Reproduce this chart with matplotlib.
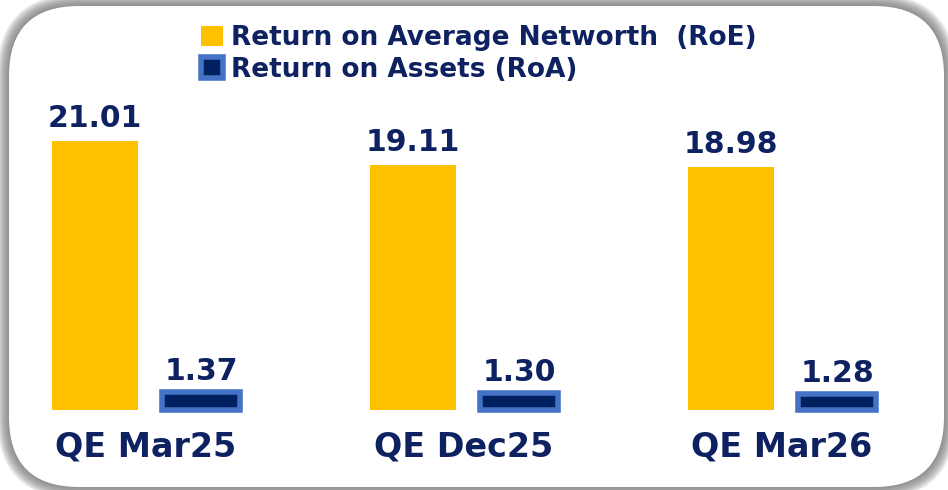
import matplotlib
matplotlib.use('Agg')
import matplotlib.pyplot as plt
from matplotlib.patches import FancyBboxPatch
from matplotlib.transforms import IdentityTransform
import numpy as np

# data
categories = ['QE Mar25', 'QE Dec25', 'QE Mar26']
roe = [21.01, 19.11, 18.98]
roa = [1.37, 1.30, 1.28]
series_names = ['Return on Average Networth  (RoE)', 'Return on Assets (RoA)']

yellow = '#FFC000'
navy = '#002060'
blue_edge = '#4472C4'
text_col = '#0E2160'

W, H = 948, 490
fig = plt.figure(figsize=(W / 100, H / 100), dpi=100)
fig.patch.set_facecolor('white')

# rounded card with soft gray shadow
x0, y0, x1, y1 = 9, 3, 944, 484
r = 70
for i in range(12, 0, -1):
    sh = FancyBboxPatch((x0 - i, y0 - i), (x1 - x0) + 2 * i, (y1 - y0) + 2 * i,
                        boxstyle=f'round,pad=0,rounding_size={r + i}',
                        transform=IdentityTransform(), facecolor='#6f6f6f',
                        edgecolor='none', alpha=0.1, zorder=0)
    fig.patches.append(sh)
card = FancyBboxPatch((x0, y0), x1 - x0, y1 - y0,
                      boxstyle=f'round,pad=0,rounding_size={r}',
                      transform=IdentityTransform(), facecolor='white',
                      edgecolor='none', zorder=1)
fig.patches.append(card)

ax = fig.add_axes([0, 0, 1, 1])
ax.set_zorder(5)
ax.set_facecolor('none')
ax.axis('off')

px_per_unit = 12.8
ax.set_xlim(-148 / 318, (W - 148) / 318)
ax.set_ylim(-(H - 410) / px_per_unit, 410 / px_per_unit)

x = np.arange(len(categories))
off = 106 / 318 / 2
b1 = ax.bar(x - off, roe, width=86 / 318, color=yellow, label=series_names[0], zorder=3)
b2 = ax.bar(x + off, roa, width=78 / 318, color=navy, edgecolor=blue_edge,
            linewidth=4, label=series_names[1], zorder=3)

for xi, v in zip(x - off, roe):
    ax.annotate(f'{v:.2f}', (xi, v), xytext=(0, 14), textcoords='offset pixels',
                ha='center', va='baseline', fontsize=21.5, fontweight='bold', color=text_col)
for xi, v in zip(x + off, roa):
    ax.annotate(f'{v:.2f}', (xi, v), xytext=(0, 12), textcoords='offset pixels',
                ha='center', va='baseline', fontsize=21.5, fontweight='bold', color=text_col)

for xi, c in zip(x, categories):
    ax.text(xi - 0.008, -46 / px_per_unit, c, ha='center', va='baseline',
            fontsize=24, fontweight='bold', color=text_col)

leg = ax.legend(handles=[b1, b2], loc='upper left',
                bbox_to_anchor=(201 / W, 1 - 25 / H), bbox_transform=fig.transFigure,
                frameon=False, handlelength=0.82, handleheight=0.82,
                handletextpad=0.3, labelspacing=0.22, borderpad=0, borderaxespad=0,
                labelcolor=text_col, prop={'weight': 'bold', 'size': 19})

fig.savefig('out.png', dpi=100, facecolor=fig.get_facecolor())
